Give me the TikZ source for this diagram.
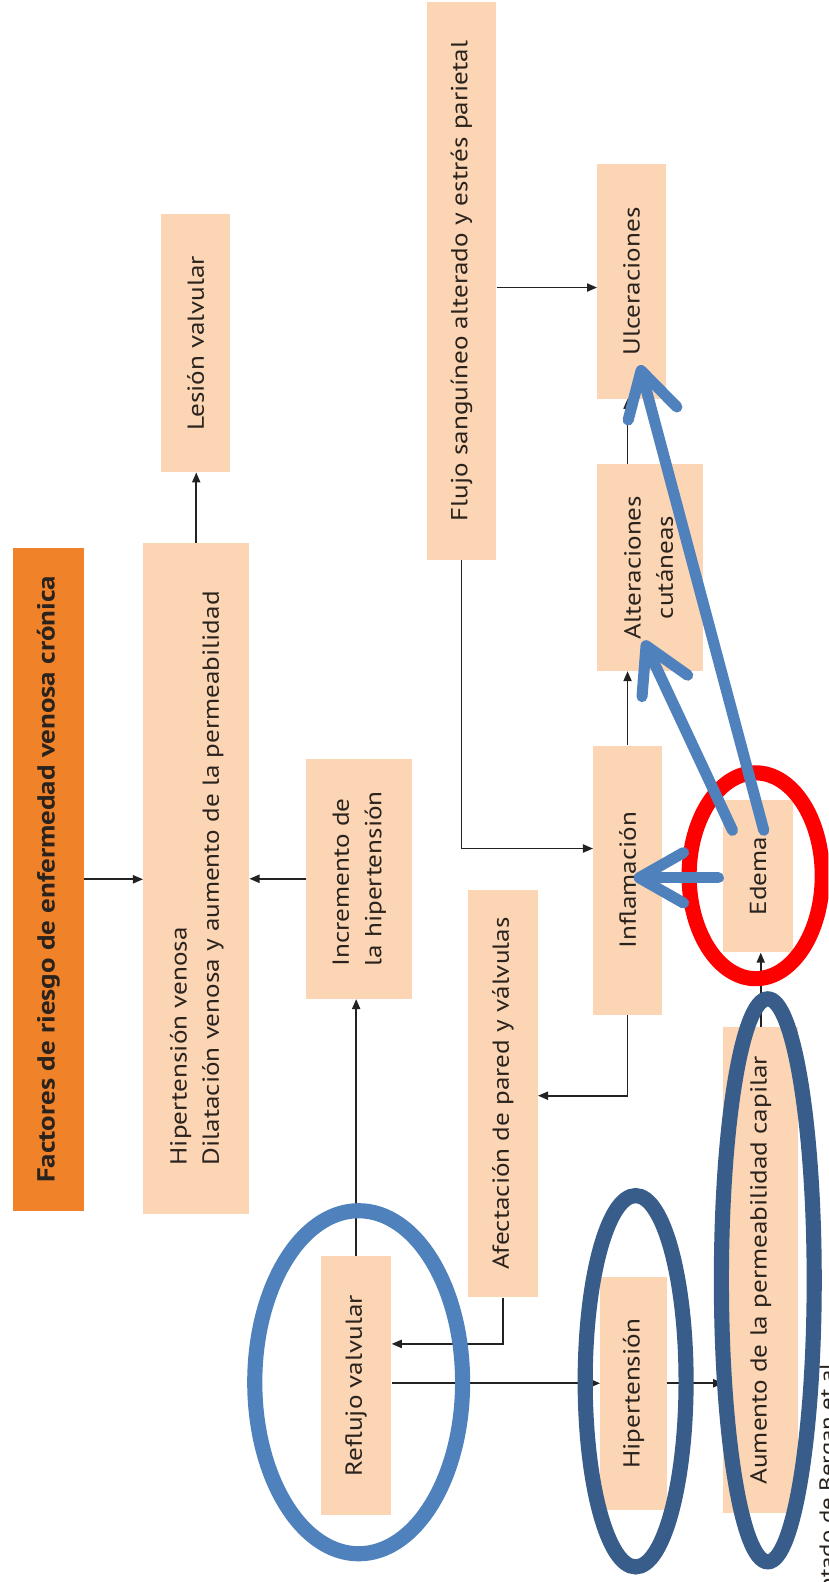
\documentclass[tikz,border=0pt]{standalone}
\usepackage{fontspec}
\setmainfont{PT Sans}[FakeStretch=1.17]
\usetikzlibrary{arrows.meta}
\definecolor{peach}{HTML}{FCD5B5}
\definecolor{orangebox}{HTML}{F0832A}
\definecolor{lblue}{HTML}{4F81BD}
\definecolor{dblue}{HTML}{385D8A}
\definecolor{txt}{HTML}{2A231D}
\definecolor{lnk}{HTML}{222222}
\newcommand{\vt}[1]{\rotatebox{90}{#1}}
\tikzset{
  box/.style={fill=peach, draw=none, inner sep=0pt, text=txt, font=\fontsize{23}{32}\selectfont},
  titlebox/.style={box, fill=orangebox, font=\bfseries\fontsize{24.5}{30}\selectfont},
  arr/.style={draw=lnk, line width=1.8pt, -{Triangle[length=10pt,width=8pt]}},
  blue arrow/.style={draw=lblue, line width=11pt, line cap=round, -{Straight Barb[length=44pt,width=50pt,round]}},
  ring/.style={line width=15pt}
}
\begin{document}
\begin{tikzpicture}[x=1pt,y=-1pt]
\useasboundingbox (0,0) rectangle (821,1568);
\fill[white] (0,0) rectangle (821,1568);
\begin{scope}
\clip (0,0) rectangle (821,1568);
% boxes
\node[titlebox, minimum width=70pt, minimum height=657pt] (fact) at (48,871.5) {\vt{Factores de riesgo de enfermedad venosa crónica}};
\node[box, minimum width=105pt, minimum height=665pt] (hv) at (194.5,870.5) {\vt{\begin{tabular}{@{}l@{}}Hipertensión venosa\\Dilatación venosa y aumento de la permeabilidad\end{tabular}}};
\node[box, minimum width=68pt, minimum height=256pt] (les) at (194,340) {\vt{Lesión valvular}};
\node[box, minimum width=105pt, minimum height=238pt] (inc) at (355.5,871) {\vt{\begin{tabular}{@{}l@{}}Incremento de\\la hipertensión\end{tabular}}};
\node[box, minimum width=69pt, minimum height=553pt] (flu) at (457.5,278.5) {\vt{Flujo sanguíneo alterado y estrés parietal}};
\node[box, minimum width=68pt, minimum height=232pt] (ulc) at (626,279) {\vt{Ulceraciones}};
\node[box, minimum width=105pt, minimum height=205pt] (alt) at (644.5,562.5) {\vt{\begin{tabular}{@{}c@{}}Alteraciones\\cutáneas\end{tabular}}};
\node[box, minimum width=68pt, minimum height=267pt] (inf) at (622,872.5) {\vt{Inflamación}};
\node[box, minimum width=69pt, minimum height=404pt] (afe) at (498.5,1084) {\vt{Afectación de pared y válvulas}};
\node[box, minimum width=70pt, minimum height=257pt] (ref) at (353,1373.5) {\vt{Reflujo valvular}};
\node[box, minimum width=66pt, minimum height=231pt] (hip) at (628,1381.5) {\vt{Hipertensión}};
\node[box, minimum width=69pt, minimum height=151pt] (ede) at (751.5,868.5) {\vt{Edema}};
\node[box, minimum width=74pt, minimum height=482pt] (aum) at (754,1259) {\vt{Aumento de la permeabilidad capilar}};
\node[anchor=base east, rotate=90, text=txt, font=\fontsize{21}{24}\selectfont] (cap) at (827,1342) {Adaptado de Bergan et al.};
% helper coordinates
\coordinate (yafe) at (0,1332);
\coordinate (yrh) at (0,1371);
\coordinate (yia) at (0,1086);
\coordinate (yfi) at (0,841);
\coordinate (yfu) at (0,285);
% black connectors
\draw[arr] (fact.east) -- (fact.east -| hv.west);
\draw[arr] (inc.west) -- (inc.west -| hv.east);
\draw[arr] (hv.north) -- (hv.north |- les.south);
\draw[arr] (ref.north) -- (ref.north |- inc.south);
\draw[arr] (afe.south) |- (ref.east |- yafe);
\draw[arr] (ref.east |- yrh) -- (hip.west |- yrh);
\draw[arr] (hip.east |- yrh) -- (aum.west |- yrh);
\draw[arr] (aum.north) -- (aum.north |- ede.south);
\draw[arr] (inf.south) |- (afe.east |- yia);
\draw[arr] (flu.south) |- (inf.west |- yfi);
\draw[arr] (flu.east |- yfu) -- (ulc.west |- yfu);
\draw[arr] (inf.north) -- (inf.north |- alt.south);
\draw[arr] (alt.north -| inf.north) -- (ulc.south -| inf.north);
\draw[arr] (ede.west) -- (ede.west -| inf.east);
% ellipses
\draw[lblue, ring] (355.5,1370) ellipse [x radius=103pt, y radius=170pt];
\draw[dblue, ring] (630,1369) ellipse [x radius=50pt, y radius=184pt];
\draw[red, ring] (749,868) ellipse [x radius=66pt, y radius=102pt];
\draw[dblue, ring] (761,1269) ellipse [x radius=46pt, y radius=279pt];
% blue annotation arrows
\coordinate (e1) at (712,870);
\coordinate (t1) at (628,870);
\coordinate (e2) at (726,823);
\coordinate (t2) at (638,635);
\coordinate (e3) at (757,823);
\coordinate (t3) at (634,362);
\draw[blue arrow] (e1) -- (t1);
\draw[blue arrow] (e2) -- (t2);
\draw[blue arrow] (e3) -- (t3);
\end{scope}
\end{tikzpicture}
\end{document}
